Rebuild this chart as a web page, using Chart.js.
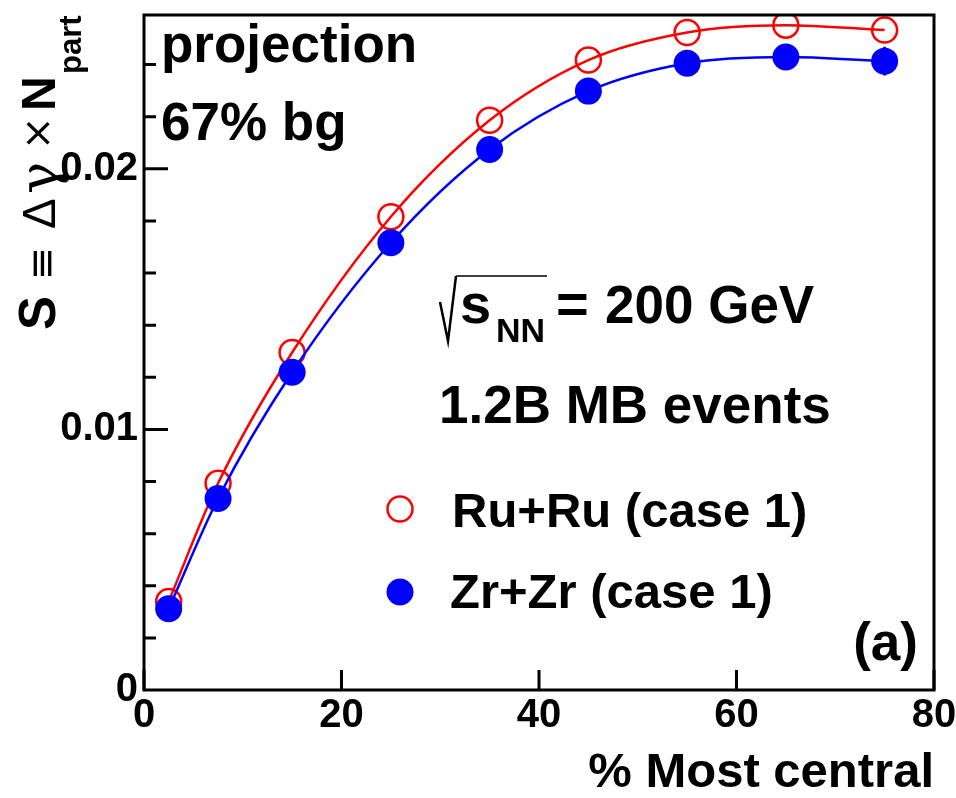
<!DOCTYPE html>
<html>
<head>
<meta charset="utf-8">
<script src="https://cdn.jsdelivr.net/npm/chart.js@4"></script>
<style>
  html, body { margin: 0; padding: 0; background: #fff; }
</style>
</head>
<body>
<canvas id="myChart" width="956" height="798"></canvas>
<script>
// centrality bin centres (% most central)
var centrality = [2.5, 7.5, 15, 25, 35, 45, 55, 65, 75];
var ruValues = [0.00340, 0.00793, 0.01295, 0.01816, 0.02186, 0.02417, 0.02523, 0.02551, 0.02532];
var zrValues = [0.00312, 0.00735, 0.01219, 0.01716, 0.02074, 0.02298, 0.02405, 0.02429, 0.02413];
var zrErrors = [0, 0, 0, 0, 0, 0, 0, 0, 0.00055];
var xTicks = [0, 20, 40, 60, 80];
var yTicks = [0, 0.01, 0.02];
var yMinorStep = 0.002;

var FONT = "'Liberation Sans', Arial, Helvetica, sans-serif";
var RED = '#ff0000';
var BLUE = '#0000ff';

function toPoints(xs, ys) {
    return xs.map(function (x, i) { return { x: x, y: ys[i] }; });
}

function label(ctx, s, x, y, size, weight, align, family) {
    ctx.font = (weight || 'bold') + ' ' + size + 'px ' + (family || FONT);
    ctx.textAlign = align || 'left';
    ctx.textBaseline = 'alphabetic';
    ctx.fillText(s, x, y);
}

var decorations = {
    id: 'decorations',
    beforeDatasetsDraw: function (chart) {
        var ctx = chart.ctx, xs = chart.scales.x, ys = chart.scales.y;
        ctx.save();
        ctx.strokeStyle = BLUE;
        ctx.lineWidth = 3;
        centrality.forEach(function (c, i) {
            if (!zrErrors[i]) return;
            var px = xs.getPixelForValue(c);
            ctx.beginPath();
            ctx.moveTo(px, ys.getPixelForValue(zrValues[i] - zrErrors[i]));
            ctx.lineTo(px, ys.getPixelForValue(zrValues[i] + zrErrors[i]));
            ctx.stroke();
        });
        ctx.restore();
    },
    afterDraw: function (chart) {
        var ctx = chart.ctx, a = chart.chartArea, xs = chart.scales.x, ys = chart.scales.y;
        ctx.save();

        // frame
        ctx.strokeStyle = '#000';
        ctx.lineWidth = 3;
        ctx.strokeRect(a.left, a.top, a.right - a.left, a.bottom - a.top);

        // tick marks pointing inwards
        ctx.beginPath();
        var nMinor = Math.floor(ys.max / yMinorStep + 1e-6);
        for (var k = 1; k <= nMinor; k++) {
            var py = ys.getPixelForValue(k * yMinorStep);
            ctx.moveTo(a.left, py);
            ctx.lineTo(a.left + (k % 5 === 0 ? 24 : 12), py);
        }
        xTicks.forEach(function (t) {
            var px = xs.getPixelForValue(t);
            ctx.moveTo(px, a.bottom);
            ctx.lineTo(px, a.bottom - 20);
        });
        ctx.stroke();

        // y axis title: S ≡ Δγ × N_part
        ctx.fillStyle = '#000';
        ctx.save();
        ctx.translate(55, 330);
        ctx.rotate(-Math.PI / 2);
        label(ctx, 'S', 0, 0, 51, 'bold');
        label(ctx, '\u2261', 50, 0, 40, 'normal', 'left', "'DejaVu Sans'");
        label(ctx, '\u0394', 101, 0, 46, 'normal');
        label(ctx, '\u03b3', 136, 3, 54, 'normal', 'left', "'DejaVu Serif'");
        label(ctx, '\u00d7', 180, -4, 40, 'normal', 'left', "'DejaVu Sans'");
        label(ctx, 'N', 219, 0, 48, 'bold');
        label(ctx, 'part', 256, 26, 31, 'bold');
        ctx.restore();

        // annotations
        label(ctx, 'projection', 161, 62, 53);
        label(ctx, '67% bg', 161, 140, 53);

        ctx.lineWidth = 2.5;
        ctx.beginPath();
        ctx.moveTo(440, 302);
        ctx.lineTo(448, 341);
        ctx.lineTo(456, 276);
        ctx.stroke();
        ctx.lineWidth = 1.5;
        ctx.beginPath();
        ctx.moveTo(456, 276);
        ctx.lineTo(547, 276);
        ctx.stroke();
        label(ctx, 's', 460, 323, 56);
        label(ctx, 'NN', 496, 342, 34);
        label(ctx, '=', 556, 323, 56);
        label(ctx, '200 GeV', 605, 323, 53);
        label(ctx, '1.2B MB events', 439, 423, 53);

        // legend
        ctx.strokeStyle = RED;
        ctx.lineWidth = 2.5;
        ctx.beginPath();
        ctx.arc(400, 509, 12.5, 0, Math.PI * 2);
        ctx.stroke();
        ctx.fillStyle = BLUE;
        ctx.beginPath();
        ctx.arc(400, 592, 13.5, 0, Math.PI * 2);
        ctx.fill();
        ctx.fillStyle = '#000';
        label(ctx, 'Ru+Ru (case 1)', 452, 527, 49);
        label(ctx, 'Zr+Zr (case 1)', 450, 608, 49);

        label(ctx, '(a)', 918, 660, 53, 'bold', 'right');
        ctx.restore();
    }
};

var ctx = document.getElementById('myChart').getContext('2d');
var myChart = new Chart(ctx, {
    type: 'scatter',
    data: {
        datasets: [{
            label: 'Ru+Ru (case 1)',
            data: toPoints(centrality, ruValues),
            showLine: true,
            cubicInterpolationMode: 'monotone',
            borderColor: RED,
            borderWidth: 2.5,
            pointRadius: 12.5,
            pointBorderWidth: 2.5,
            pointBorderColor: RED,
            pointBackgroundColor: 'rgba(0,0,0,0)',
            order: 2
        }, {
            label: 'Zr+Zr (case 1)',
            data: toPoints(centrality, zrValues),
            showLine: true,
            cubicInterpolationMode: 'monotone',
            borderColor: BLUE,
            borderWidth: 2.5,
            pointRadius: 13.5,
            pointBorderWidth: 0,
            pointBackgroundColor: BLUE,
            order: 1
        }]
    },
    options: {
        responsive: false,
        animation: false,
        devicePixelRatio: 1,
        layout: { padding: { top: 12, right: 22, left: 0, bottom: 0 } },
        plugins: {
            legend: { display: false },
            tooltip: { enabled: false }
        },
        scales: {
            x: {
                type: 'linear',
                min: 0,
                max: 80,
                grid: { display: false, drawTicks: false },
                border: { display: false },
                afterBuildTicks: function (scale) {
                    scale.ticks = xTicks.map(function (v) { return { value: v }; });
                },
                afterFit: function (scale) {
                    scale.height = 108;
                    scale.paddingLeft = 0;
                    scale.paddingRight = 0;
                },
                ticks: {
                    autoSkip: false,
                    maxRotation: 0,
                    padding: 2,
                    color: '#000',
                    font: { family: FONT, size: 40, weight: 'bold' }
                },
                title: {
                    display: true,
                    text: '% Most central',
                    align: 'end',
                    color: '#000',
                    padding: { top: 0, bottom: 0 },
                    font: { family: FONT, size: 49, weight: 'bold', lineHeight: 1 }
                }
            },
            y: {
                type: 'linear',
                min: 0,
                max: 0.0259,
                grid: { display: false, drawTicks: false },
                border: { display: false },
                afterBuildTicks: function (scale) {
                    scale.ticks = yTicks.map(function (v) { return { value: v }; });
                },
                afterFit: function (scale) {
                    scale.width = 144;
                    scale.paddingTop = 0;
                    scale.paddingBottom = 0;
                },
                ticks: {
                    padding: 6,
                    color: '#000',
                    font: { family: FONT, size: 40, weight: 'bold' },
                    callback: function (v) { return v === 0 ? '0' : v.toFixed(2); }
                }
            }
        }
    },
    plugins: [decorations]
});
</script>
</body>
</html>
